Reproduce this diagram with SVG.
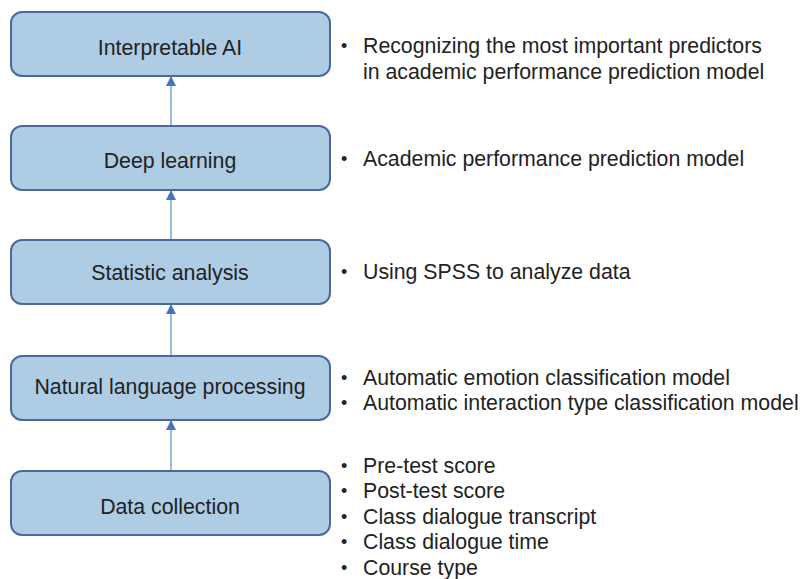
<svg xmlns="http://www.w3.org/2000/svg" width="801" height="579" viewBox="0 0 801 579">
  <defs>
    <marker id="head" viewBox="0 0 10 10" refX="9" refY="5" markerWidth="10" markerHeight="10" markerUnits="userSpaceOnUse" orient="auto">
      <path d="M0,0 L10,5 L0,10 Z" fill="#4472c4"/>
    </marker>
    <style>
      .box { fill: #aecce4; stroke: #4a6a9c; stroke-width: 2; }
      .label { font-family: "Liberation Sans", Arial, sans-serif; font-size: 21.3px; fill: #222; text-anchor: middle; }
      .note { font-family: "Liberation Sans", Arial, sans-serif; font-size: 21.3px; fill: #222; }
      .dot { font-family: "Liberation Sans", Arial, sans-serif; font-size: 18px; fill: #222; }
      .link { stroke: #9dbbe0; stroke-width: 2; fill: none; marker-end: url(#head); }
    </style>
  </defs>
  <rect width="801" height="579" fill="#ffffff"/>

  <g id="connectors">
    <line class="link" x1="171" y1="125" x2="171" y2="77"/>
    <line class="link" x1="171" y1="239" x2="171" y2="191"/>
    <line class="link" x1="171" y1="355" x2="171" y2="305"/>
    <line class="link" x1="171" y1="470" x2="171" y2="421"/>
  </g>

  <g id="interpretable-ai">
    <rect class="box" x="11" y="12" width="319" height="64" rx="11"/>
    <text class="label" x="170" y="55">Interpretable AI</text>
    <text class="dot" x="341" y="52">•</text>
    <text class="note" x="363" y="53">Recognizing the most important predictors</text>
    <text class="note" x="363" y="79">in academic performance prediction model</text>
  </g>

  <g id="deep-learning">
    <rect class="box" x="11" y="126" width="319" height="64" rx="11"/>
    <text class="label" x="170" y="168">Deep learning</text>
    <text class="dot" x="341" y="165">•</text>
    <text class="note" x="363" y="166">Academic performance prediction model</text>
  </g>

  <g id="statistic-analysis">
    <rect class="box" x="11" y="240" width="319" height="64" rx="11"/>
    <text class="label" x="170" y="280">Statistic analysis</text>
    <text class="dot" x="341" y="278">•</text>
    <text class="note" x="363" y="279">Using SPSS to analyze data</text>
  </g>

  <g id="nlp">
    <rect class="box" x="11" y="356" width="319" height="64" rx="11"/>
    <text class="label" x="170" y="394">Natural language processing</text>
    <text class="dot" x="341" y="384">•</text>
    <text class="note" x="363" y="385">Automatic emotion classification model</text>
    <text class="dot" x="341" y="409">•</text>
    <text class="note" x="363" y="410">Automatic interaction type classification model</text>
  </g>

  <g id="data-collection">
    <rect class="box" x="11" y="471" width="319" height="64" rx="11"/>
    <text class="label" x="170" y="514">Data collection</text>
    <text class="dot" x="341" y="472">•</text>
    <text class="note" x="363" y="473">Pre-test score</text>
    <text class="dot" x="341" y="497">•</text>
    <text class="note" x="363" y="498">Post-test score</text>
    <text class="dot" x="341" y="523">•</text>
    <text class="note" x="363" y="524">Class dialogue transcript</text>
    <text class="dot" x="341" y="548">•</text>
    <text class="note" x="363" y="549">Class dialogue time</text>
    <text class="dot" x="341" y="574">•</text>
    <text class="note" x="363" y="575">Course type</text>
  </g>
</svg>
